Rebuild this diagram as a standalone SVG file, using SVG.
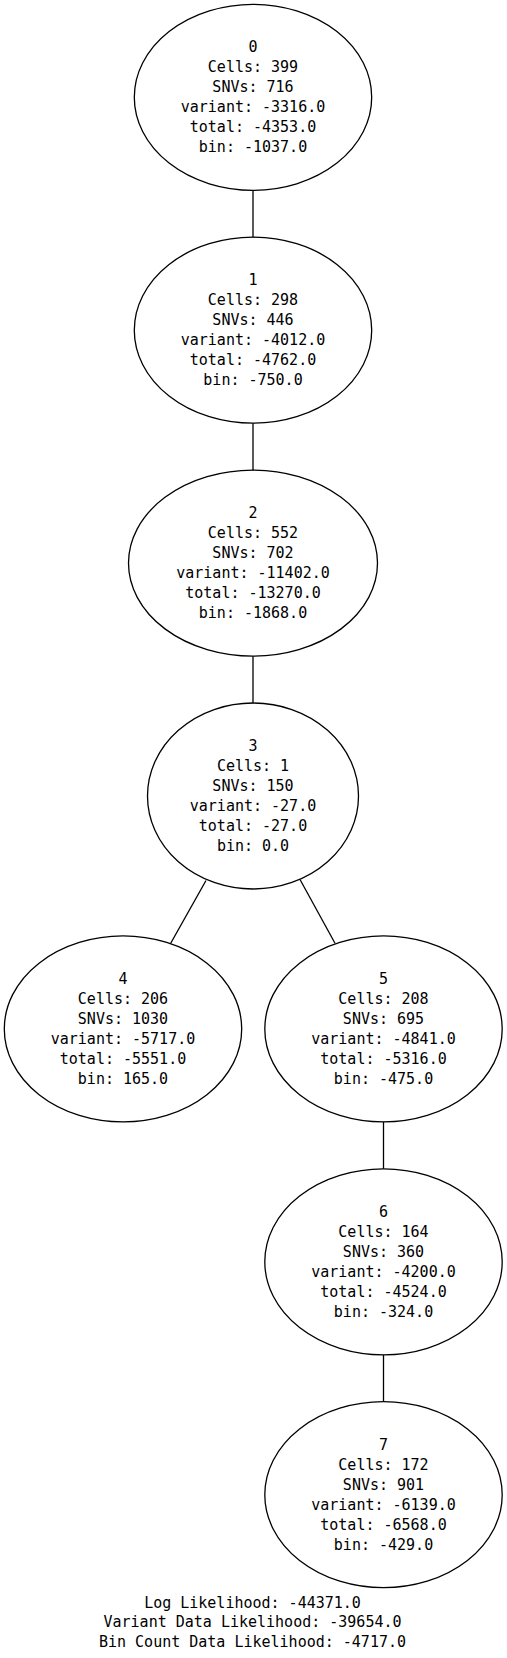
<svg xmlns="http://www.w3.org/2000/svg" width="507" height="1658" viewBox="0 0 507 1658">
<style>
.n ellipse{fill:none;stroke:#000;stroke-width:1.3}
.n text,.f text{font-family:"DejaVu Sans Mono",monospace;font-size:15px;fill:#000;text-anchor:middle}
.e line{stroke:#000;stroke-width:1.3}
</style>
<rect width="507" height="1658" fill="#fff"/>
<g id="edges" class="e">
<line x1="253" y1="190.5" x2="253" y2="237.2"/>
<line x1="253" y1="423.3" x2="253" y2="470.5"/>
<line x1="253" y1="656.2" x2="253" y2="703.2"/>
<line x1="206" y1="880.5" x2="170.7" y2="943.3"/>
<line x1="300" y1="879.5" x2="335" y2="943.3"/>
<line x1="383.5" y1="1121.8" x2="383.5" y2="1168.8"/>
<line x1="383.5" y1="1354.8" x2="383.5" y2="1401.7"/>
</g>
<g id="node0" class="n">
<ellipse cx="253" cy="97.3" rx="118.7" ry="93"/>
<text x="253" y="52.3">0</text><text x="253" y="72.3">Cells: 399</text><text x="253" y="92.3">SNVs: 716</text><text x="253" y="112.3">variant: -3316.0</text><text x="253" y="132.3">total: -4353.0</text><text x="253" y="152.3">bin: -1037.0</text>
</g>
<g id="node1" class="n">
<ellipse cx="253" cy="330.2" rx="118.7" ry="93"/>
<text x="253" y="285.2">1</text><text x="253" y="305.2">Cells: 298</text><text x="253" y="325.2">SNVs: 446</text><text x="253" y="345.2">variant: -4012.0</text><text x="253" y="365.2">total: -4762.0</text><text x="253" y="385.2">bin: -750.0</text>
</g>
<g id="node2" class="n">
<ellipse cx="253" cy="563.1" rx="124.5" ry="93"/>
<text x="253" y="518.1">2</text><text x="253" y="538.1">Cells: 552</text><text x="253" y="558.1">SNVs: 702</text><text x="253" y="578.1">variant: -11402.0</text><text x="253" y="598.1">total: -13270.0</text><text x="253" y="618.1">bin: -1868.0</text>
</g>
<g id="node3" class="n">
<ellipse cx="253" cy="796" rx="105.5" ry="93"/>
<text x="253" y="751">3</text><text x="253" y="771">Cells: 1</text><text x="253" y="791">SNVs: 150</text><text x="253" y="811">variant: -27.0</text><text x="253" y="831">total: -27.0</text><text x="253" y="851">bin: 0.0</text>
</g>
<g id="node4" class="n">
<ellipse cx="123" cy="1028.9" rx="118.7" ry="93"/>
<text x="123" y="983.9">4</text><text x="123" y="1003.9">Cells: 206</text><text x="123" y="1023.9">SNVs: 1030</text><text x="123" y="1043.9">variant: -5717.0</text><text x="123" y="1063.9">total: -5551.0</text><text x="123" y="1083.9">bin: 165.0</text>
</g>
<g id="node5" class="n">
<ellipse cx="383.5" cy="1028.9" rx="118.7" ry="93"/>
<text x="383.5" y="983.9">5</text><text x="383.5" y="1003.9">Cells: 208</text><text x="383.5" y="1023.9">SNVs: 695</text><text x="383.5" y="1043.9">variant: -4841.0</text><text x="383.5" y="1063.9">total: -5316.0</text><text x="383.5" y="1083.9">bin: -475.0</text>
</g>
<g id="node6" class="n">
<ellipse cx="383.5" cy="1261.8" rx="118.7" ry="93"/>
<text x="383.5" y="1216.8">6</text><text x="383.5" y="1236.8">Cells: 164</text><text x="383.5" y="1256.8">SNVs: 360</text><text x="383.5" y="1276.8">variant: -4200.0</text><text x="383.5" y="1296.8">total: -4524.0</text><text x="383.5" y="1316.8">bin: -324.0</text>
</g>
<g id="node7" class="n">
<ellipse cx="383.5" cy="1494.7" rx="118.7" ry="93"/>
<text x="383.5" y="1449.7">7</text><text x="383.5" y="1469.7">Cells: 172</text><text x="383.5" y="1489.7">SNVs: 901</text><text x="383.5" y="1509.7">variant: -6139.0</text><text x="383.5" y="1529.7">total: -6568.0</text><text x="383.5" y="1549.7">bin: -429.0</text>
</g>
<g id="footer" class="f">
<text x="252.5" y="1607.5">Log Likelihood: -44371.0</text>
<text x="252.5" y="1627.3">Variant Data Likelihood: -39654.0</text>
<text x="252.5" y="1647">Bin Count Data Likelihood: -4717.0</text>
</g>
</svg>
